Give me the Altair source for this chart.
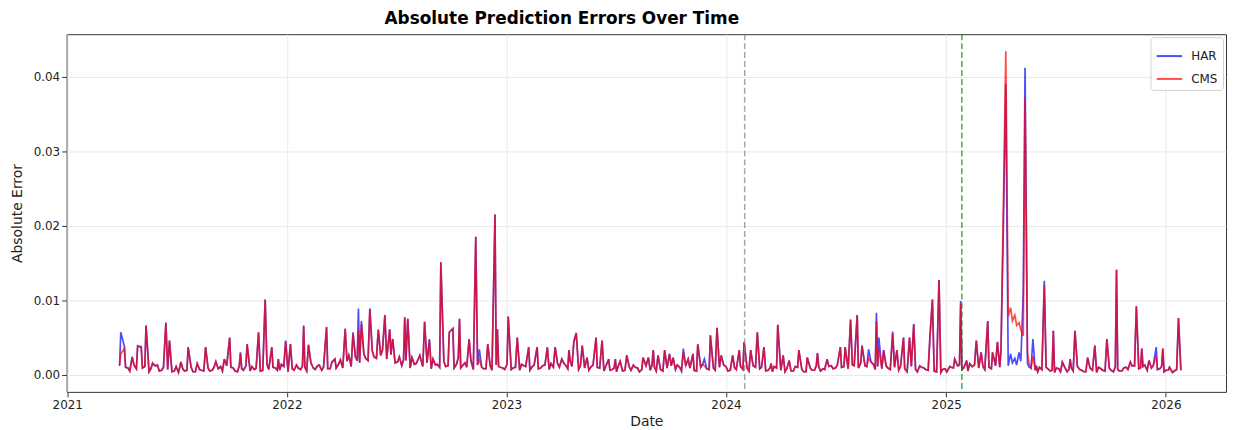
import altair as alt
import pandas as pd

# ---------------- data ----------------
start_date = "2021-03-29"           # first trading day shown (day 0)

# background level shared by both models, one value every 7 days from day 0
base_vals = [
    0.0012, 0.0006, 0.0009, 0.0004, 0.0008, 0.0005, 0.0011, 0.0004, 0.0007, 0.0013, 0.0006, 0.0004, 0.0009,
    0.0005, 0.0003, 0.0008, 0.0006, 0.0010, 0.0004, 0.0007, 0.0005, 0.0009, 0.0006, 0.0004, 0.0011, 0.0007,
    0.0006, 0.0009, 0.0004, 0.0008, 0.0012, 0.0005, 0.0007, 0.0010, 0.0006, 0.0014, 0.0005, 0.0009, 0.0006,
    0.0011, 0.0004, 0.0008, 0.0013, 0.0007, 0.0010, 0.0005, 0.0009, 0.0012, 0.0006, 0.0015, 0.0008, 0.0011,
    0.0014, 0.0009, 0.0018, 0.0011, 0.0024, 0.0016, 0.0028, 0.0019, 0.0032, 0.0022, 0.0026, 0.0015, 0.0021,
    0.0030, 0.0017, 0.0012, 0.0019, 0.0009, 0.0014, 0.0022, 0.0011, 0.0016, 0.0008, 0.0013, 0.0010, 0.0018,
    0.0012, 0.0020, 0.0014, 0.0009, 0.0016, 0.0011, 0.0007, 0.0013, 0.0010, 0.0008, 0.0012, 0.0006, 0.0011,
    0.0009, 0.0014, 0.0007, 0.0010, 0.0006, 0.0012, 0.0008, 0.0011, 0.0005, 0.0009, 0.0013, 0.0007, 0.0010,
    0.0015, 0.0009, 0.0012, 0.0018, 0.0010, 0.0007, 0.0013, 0.0008, 0.0011, 0.0006, 0.0009, 0.0005, 0.0010,
    0.0007, 0.0004, 0.0008, 0.0006, 0.0011, 0.0005, 0.0009, 0.0007, 0.0012, 0.0006, 0.0010, 0.0008, 0.0005,
    0.0009, 0.0012, 0.0007, 0.0010, 0.0006, 0.0011, 0.0008, 0.0005, 0.0010, 0.0013, 0.0007, 0.0009, 0.0004,
    0.0008, 0.0011, 0.0006, 0.0010, 0.0012, 0.0007, 0.0009, 0.0005, 0.0010, 0.0008, 0.0011, 0.0006, 0.0004,
    0.0009, 0.0006, 0.0004, 0.0008, 0.0005, 0.0010, 0.0007, 0.0004, 0.0009, 0.0006, 0.0011, 0.0008, 0.0005,
    0.0012, 0.0009, 0.0015, 0.0011, 0.0008, 0.0013, 0.0010, 0.0016, 0.0012, 0.0009, 0.0014, 0.0011, 0.0008,
    0.0012, 0.0007, 0.0010, 0.0006, 0.0009, 0.0004, 0.0011, 0.0007, 0.0005, 0.0009, 0.0006, 0.0010, 0.0004,
    0.0003, 0.0008, 0.0005, 0.0009, 0.0012, 0.0007, 0.0010, 0.0006, 0.0013, 0.0009, 0.0011, 0.0015, 0.0008,
    0.0012, 0.0010, 0.0008, 0.0011, 0.0007, 0.0013, 0.0009, 0.0006, 0.0005, 0.0008, 0.0004, 0.0007, 0.0010,
    0.0005, 0.0003, 0.0008, 0.0006, 0.0004, 0.0009, 0.0005, 0.0007, 0.0004, 0.0010, 0.0006, 0.0003, 0.0008,
    0.0005, 0.0009, 0.0004, 0.0007, 0.0005, 0.0010, 0.0006, 0.0012, 0.0008, 0.0011, 0.0006, 0.0009, 0.0005,
    0.0008, 0.0004, 0.0006, 0.0003, 0.0007, 0.0006,
]
# in-between readings, one every 7 days starting at day 3
mid_vals = [
    0.0004, 0.0010, 0.0005, 0.0013, 0.0006, 0.0009, 0.0003, 0.0008, 0.0012, 0.0005, 0.0010, 0.0007, 0.0004,
    0.0011, 0.0006, 0.0005, 0.0012, 0.0004, 0.0009, 0.0006, 0.0013, 0.0005, 0.0010, 0.0008, 0.0005, 0.0012,
    0.0010, 0.0005, 0.0012, 0.0006, 0.0004, 0.0011, 0.0009, 0.0005, 0.0013, 0.0007, 0.0010, 0.0006, 0.0014,
    0.0008, 0.0011, 0.0006, 0.0009, 0.0012, 0.0005, 0.0016, 0.0007, 0.0013, 0.0010, 0.0008, 0.0017, 0.0009,
    0.0020, 0.0012, 0.0026, 0.0015, 0.0019, 0.0030, 0.0022, 0.0035, 0.0024, 0.0018, 0.0033, 0.0021, 0.0027,
    0.0016, 0.0024, 0.0020, 0.0011, 0.0023, 0.0015, 0.0012, 0.0019, 0.0009, 0.0021, 0.0014, 0.0017, 0.0011,
    0.0018, 0.0009, 0.0023, 0.0012, 0.0010, 0.0019, 0.0014, 0.0011, 0.0008, 0.0015, 0.0006, 0.0013, 0.0010,
    0.0007, 0.0012, 0.0009, 0.0005, 0.0014, 0.0011, 0.0006, 0.0013, 0.0008, 0.0012, 0.0006, 0.0015, 0.0009,
    0.0010, 0.0016, 0.0008, 0.0011, 0.0014, 0.0012, 0.0009, 0.0006, 0.0013, 0.0010, 0.0004, 0.0011, 0.0006,
    0.0009, 0.0012, 0.0005, 0.0008, 0.0006, 0.0010, 0.0004, 0.0011, 0.0008, 0.0013, 0.0005, 0.0007, 0.0012,
    0.0006, 0.0008, 0.0013, 0.0005, 0.0012, 0.0009, 0.0006, 0.0011, 0.0014, 0.0008, 0.0011, 0.0006, 0.0010,
    0.0013, 0.0005, 0.0009, 0.0007, 0.0011, 0.0014, 0.0005, 0.0012, 0.0007, 0.0010, 0.0005, 0.0009, 0.0011,
    0.0005, 0.0010, 0.0008, 0.0005, 0.0011, 0.0007, 0.0004, 0.0010, 0.0006, 0.0012, 0.0005, 0.0007, 0.0011,
    0.0008, 0.0013, 0.0010, 0.0007, 0.0016, 0.0012, 0.0009, 0.0014, 0.0011, 0.0017, 0.0007, 0.0012, 0.0015,
    0.0009, 0.0013, 0.0006, 0.0011, 0.0008, 0.0012, 0.0006, 0.0004, 0.0010, 0.0007, 0.0012, 0.0005, 0.0009,
    0.0007, 0.0004, 0.0010, 0.0006, 0.0013, 0.0009, 0.0005, 0.0011, 0.0008, 0.0014, 0.0007, 0.0010, 0.0012,
    0.0009, 0.0014, 0.0011, 0.0006, 0.0010, 0.0008, 0.0012, 0.0005, 0.0009, 0.0006, 0.0010, 0.0005, 0.0008,
    0.0006, 0.0009, 0.0004, 0.0010, 0.0007, 0.0005, 0.0011, 0.0006, 0.0004, 0.0009, 0.0005, 0.0010, 0.0006,
    0.0010, 0.0006, 0.0011, 0.0005, 0.0009, 0.0007, 0.0012, 0.0006, 0.0009, 0.0013, 0.0008, 0.0012, 0.0007,
    0.0011, 0.0006, 0.0009, 0.0005, 0.0008,
]

# individual error spikes: day offset from start_date, HAR value, CMS value
spike_day = [
    2, 8, 21, 30, 36, 44, 55, 77, 83, 102,
    114, 129, 143, 160, 174, 183, 201, 212, 231, 242,
    253, 264, 276, 284, 306, 314, 344, 358, 375, 388,
    397, 402, 416, 430, 441, 449, 454, 474, 479, 499,
    507, 515, 534, 548, 554, 565, 581, 592, 598, 612,
    624, 628, 646, 661, 680, 694, 711, 724, 735, 747,
    755, 759, 769, 777, 792, 802, 813, 824, 832, 843,
    854, 870, 879, 887, 895, 906, 914, 920, 937, 945,
    953, 961, 972, 982, 993, 1000, 1019, 1030, 1038, 1049,
    1060, 1071, 1083, 1094, 1103, 1113, 1129, 1143, 1160, 1176,
    1198, 1206, 1215, 1226, 1234, 1245, 1258, 1262, 1270, 1285,
    1292, 1303, 1313, 1320, 1330, 1347, 1351, 1362, 1380, 1388,
    1398, 1408, 1413, 1424, 1432, 1443, 1451, 1459, 1465, 1469,
    1473, 1477, 1481, 1484, 1488, 1491, 1495, 1498, 1502, 1505,
    1509, 1512, 1518, 1524, 1537, 1552, 1567, 1580, 1588, 1609,
    1621, 1641, 1657, 1680, 1690, 1699, 1711, 1723, 1734, 1745,
    1760,
]
spike_har = [
    0.0057, 0.0038, 0.0024, 0.0039, 0.0037, 0.0066, 0.0015, 0.0070, 0.0046, 0.0017,
    0.0037, 0.0015, 0.0037, 0.0017, 0.0021, 0.0050, 0.0030, 0.0041, 0.0057, 0.0101,
    0.0037, 0.0021, 0.0046, 0.0041, 0.0066, 0.0040, 0.0064, 0.0021, 0.0062, 0.0057,
    0.0089, 0.0072, 0.0089, 0.0061, 0.0080, 0.0061, 0.0048, 0.0077, 0.0075, 0.0026,
    0.0071, 0.0048, 0.0151, 0.0057, 0.0062, 0.0075, 0.0048, 0.0185, 0.0034, 0.0041,
    0.0215, 0.0061, 0.0078, 0.0050, 0.0037, 0.0037, 0.0037, 0.0037, 0.0021, 0.0033,
    0.0044, 0.0056, 0.0039, 0.0023, 0.0050, 0.0046, 0.0021, 0.0021, 0.0018, 0.0026,
    0.0013, 0.0023, 0.0023, 0.0033, 0.0026, 0.0033, 0.0028, 0.0023, 0.0035, 0.0021,
    0.0028, 0.0041, 0.0021, 0.0053, 0.0063, 0.0026, 0.0026, 0.0033, 0.0044, 0.0033,
    0.0057, 0.0037, 0.0015, 0.0067, 0.0026, 0.0019, 0.0033, 0.0023, 0.0029, 0.0021,
    0.0037, 0.0037, 0.0074, 0.0080, 0.0039, 0.0034, 0.0083, 0.0050, 0.0033, 0.0058,
    0.0033, 0.0050, 0.0050, 0.0068, 0.0012, 0.0052, 0.0101, 0.0127, 0.0011, 0.0021,
    0.0099, 0.0019, 0.0015, 0.0046, 0.0030, 0.0072, 0.0030, 0.0044, 0.0033, 0.0200,
    0.0390, 0.0012, 0.0028, 0.0016, 0.0022, 0.0013, 0.0030, 0.0018, 0.0110, 0.0412,
    0.0015, 0.0010, 0.0048, 0.0010, 0.0126, 0.0059, 0.0017, 0.0021, 0.0059, 0.0023,
    0.0039, 0.0048, 0.0141, 0.0017, 0.0092, 0.0035, 0.0019, 0.0037, 0.0035, 0.0010,
    0.0076,
]
spike_cms = [
    0.0028, 0.0035, 0.0024, 0.0037, 0.0038, 0.0066, 0.0016, 0.0069, 0.0046, 0.0017,
    0.0036, 0.0015, 0.0037, 0.0018, 0.0021, 0.0050, 0.0029, 0.0041, 0.0057, 0.0101,
    0.0037, 0.0021, 0.0045, 0.0041, 0.0065, 0.0040, 0.0064, 0.0021, 0.0061, 0.0055,
    0.0060, 0.0068, 0.0088, 0.0060, 0.0080, 0.0061, 0.0048, 0.0077, 0.0075, 0.0026,
    0.0071, 0.0046, 0.0151, 0.0057, 0.0062, 0.0075, 0.0048, 0.0185, 0.0020, 0.0041,
    0.0215, 0.0061, 0.0078, 0.0050, 0.0037, 0.0037, 0.0036, 0.0037, 0.0021, 0.0033,
    0.0044, 0.0056, 0.0039, 0.0023, 0.0050, 0.0046, 0.0021, 0.0021, 0.0018, 0.0026,
    0.0013, 0.0023, 0.0023, 0.0033, 0.0026, 0.0033, 0.0028, 0.0023, 0.0030, 0.0021,
    0.0028, 0.0041, 0.0012, 0.0053, 0.0063, 0.0026, 0.0026, 0.0033, 0.0044, 0.0033,
    0.0057, 0.0037, 0.0015, 0.0067, 0.0026, 0.0019, 0.0033, 0.0023, 0.0029, 0.0021,
    0.0037, 0.0037, 0.0074, 0.0080, 0.0039, 0.0022, 0.0072, 0.0035, 0.0033, 0.0055,
    0.0033, 0.0050, 0.0050, 0.0068, 0.0012, 0.0052, 0.0101, 0.0127, 0.0011, 0.0021,
    0.0095, 0.0019, 0.0015, 0.0046, 0.0030, 0.0072, 0.0030, 0.0044, 0.0033, 0.0230,
    0.0434, 0.0078, 0.0090, 0.0072, 0.0080, 0.0066, 0.0070, 0.0060, 0.0052, 0.0372,
    0.0030, 0.0014, 0.0025, 0.0012, 0.0120, 0.0059, 0.0017, 0.0021, 0.0059, 0.0023,
    0.0039, 0.0048, 0.0141, 0.0017, 0.0092, 0.0035, 0.0019, 0.0025, 0.0035, 0.0010,
    0.0076,
]

model_names = ["HAR", "CMS"]
model_colors = ["blue", "red"]

event_dates = ["2024-02-01", "2025-01-27"]
event_colors = ["gray", "green"]

y_ticks = [0.0, 0.01, 0.02, 0.03, 0.04]
year_ticks = [2021, 2022, 2023, 2024, 2025, 2026]

# ---------------- table ----------------
assert len(spike_day) == len(spike_har) == len(spike_cms)
t0 = pd.Timestamp(start_date)
background = [(7 * i, v) for i, v in enumerate(base_vals)] + \
             [(7 * i + 3, v) for i, v in enumerate(mid_vals)]
rows = []
for name, svals in zip(model_names, (spike_har, spike_cms)):
    pts = dict(zip(spike_day, svals))
    for d, v in background:
        if all(abs(d - s) > 1 for s in spike_day):
            pts[d] = v
    for d in sorted(pts):
        rows.append({"date": (t0 + pd.Timedelta(days=d)).strftime("%Y-%m-%d"),
                     "err": pts[d], "model": name})
df = pd.DataFrame(rows)
ev = pd.DataFrame({"date": event_dates, "c": event_colors})

FONT = "DejaVu Sans"

xscale = alt.Scale(
    type="utc",
    domain=[alt.DateTime(year=2020, month=12, date=31, utc=True),
            alt.DateTime(year=2026, month=4, date=11, utc=True)],
    nice=False,
)
yscale = alt.Scale(domain=[-0.0023, 0.0457], nice=False, zero=False)

x_enc = alt.X(
    "date:T", scale=xscale,
    axis=alt.Axis(values=[alt.DateTime(year=y, month=1, date=1, utc=True) for y in year_ticks],
                  format="%Y", title="Date", labelPadding=3, titlePadding=4, labelFlush=False),
)
y_enc = alt.Y(
    "err:Q", scale=yscale,
    axis=alt.Axis(values=y_ticks, format=".2f", title="Absolute Error", titlePadding=9),
)
color_enc = alt.Color(
    "model:N",
    scale=alt.Scale(domain=model_names, range=model_colors),
    legend=alt.Legend(
        title=None, orient="top-right", offset=3, symbolType="stroke",
        symbolStrokeWidth=2, symbolSize=650, symbolOpacity=0.65,
        labelFont=FONT, labelFontSize=12, labelColor="#222", labelOffset=8,
        fillColor="white", strokeColor="#d0d0d0", cornerRadius=3,
        padding=5, rowPadding=3,
    ),
)

base = alt.Chart(df)
har_line = base.transform_filter(alt.datum.model == "HAR").mark_line(
    strokeWidth=1.7, opacity=0.7).encode(x=x_enc, y=y_enc, color=color_enc)
cms_line = base.transform_filter(alt.datum.model == "CMS").mark_line(
    strokeWidth=1.7, opacity=0.7).encode(x=x_enc, y=y_enc, color=color_enc)

rules = alt.Chart(ev).mark_rule(strokeDash=[6, 3], strokeWidth=1.5, opacity=0.7).encode(
    x=alt.X("date:T", scale=xscale),
    color=alt.Color("c:N", scale=None),
)

chart = alt.layer(har_line, cms_line, rules).properties(
    width=1167,
    height=360,
    padding={"left": 59, "top": 25, "right": 1, "bottom": 37},
    autosize=alt.AutoSizeParams(type="none"),
    title=alt.TitleParams(
        text="Absolute Prediction Errors Over Time", anchor="start", frame="group",
        dx=320, fontSize=17, font=FONT, fontWeight="bold", offset=6, color="black",
    ),
).configure_view(
    stroke="#333333", strokeWidth=1,
).configure_axis(
    labelFont=FONT, labelFontSize=12, labelColor="#222222",
    titleFont=FONT, titleFontSize=14, titleFontWeight="normal", titleColor="#222222",
    tickColor="#333333", tickSize=5, domain=False,
    grid=True, gridColor="#e9e9e9", gridWidth=1,
)

chart.save("out.html", embed_options={"renderer": "svg", "actions": False})
